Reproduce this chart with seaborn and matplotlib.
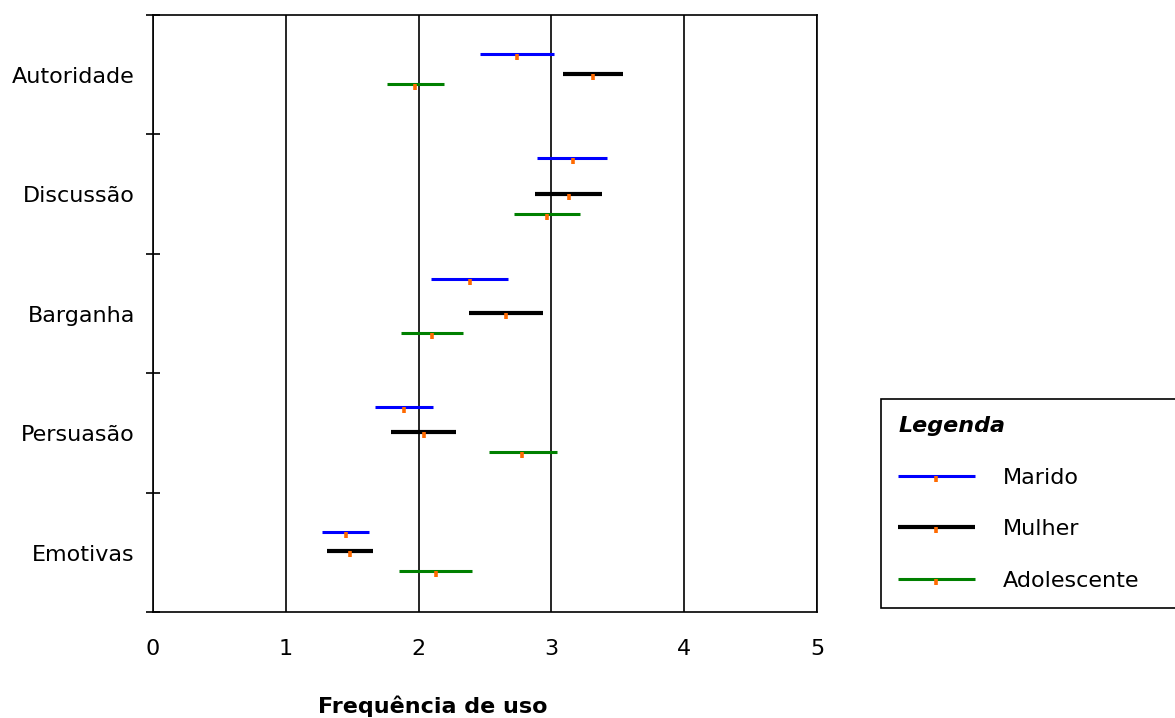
import numpy as np
import pandas as pd
import matplotlib
matplotlib.use("Agg")
import matplotlib.pyplot as plt
import seaborn as sns
from matplotlib.path import Path
from matplotlib.lines import Line2D

# ---------------- data ----------------
categories = ["Autoridade", "Discussão", "Barganha", "Persuasão", "Emotivas"]
series = ["Marido", "Mulher", "Adolescente"]

marido_low = [2.46, 2.89, 2.09, 1.67, 1.27]
marido_high = [3.02, 3.42, 2.675, 2.11, 1.63]
marido_mean = [2.74, 3.16, 2.39, 1.89, 1.455]

mulher_low = [3.085, 2.88, 2.38, 1.79, 1.31]
mulher_high = [3.54, 3.38, 2.94, 2.28, 1.66]
mulher_mean = [3.31, 3.135, 2.66, 2.04, 1.48]

adol_low = [1.76, 2.715, 1.865, 2.53, 1.85]
adol_high = [2.19, 3.215, 2.335, 3.04, 2.40]
adol_mean = [1.97, 2.97, 2.10, 2.78, 2.13]

x_ticks = [0, 1, 2, 3, 4, 5]
x_label = "Frequência de uso"
legend_title = "Legenda"

# ---------------- layout / style ----------------
row_offset = {
    "Marido": [0.324, 0.199, 0.212, 0.283, 0.324],
    "Mulher": [0.491, 0.498, 0.491, 0.487, 0.491],
    "Adolescente": [0.580, 0.668, 0.664, 0.660, 0.655],
}
colors = {"Marido": "#0000ff", "Mulher": "#000000", "Adolescente": "#008000"}
widths = {"Marido": 2.2, "Mulher": 3.0, "Adolescente": 2.2}
orange = "#ff6a00"
tick_marker = Path([(0, 0), (0, -1)])

lows = {"Marido": marido_low, "Mulher": mulher_low, "Adolescente": adol_low}
highs = {"Marido": marido_high, "Mulher": mulher_high, "Adolescente": adol_high}
means = {"Marido": marido_mean, "Mulher": mulher_mean, "Adolescente": adol_mean}

seg_rows, mean_rows = [], []
for s in series:
    for i, cat in enumerate(categories):
        y = i + row_offset[s][i]
        unit = f"{s}-{cat}"
        seg_rows.append({"series": s, "unit": unit, "x": lows[s][i], "y": y})
        seg_rows.append({"series": s, "unit": unit, "x": highs[s][i], "y": y})
        mean_rows.append({"series": s, "x": means[s][i], "y": y})
seg = pd.DataFrame(seg_rows)
mdf = pd.DataFrame(mean_rows)

sns.set_style("white")
plt.rcParams["font.family"] = ["DejaVu Sans"]
plt.rcParams["text.color"] = "black"
plt.rcParams["axes.labelcolor"] = "black"
plt.rcParams["xtick.color"] = "black"
plt.rcParams["ytick.color"] = "black"

fig = plt.figure(figsize=(11.75, 7.18), dpi=100)
ax = fig.add_axes([153 / 1175, 1 - 612.3 / 718, 664 / 1175, 597.3 / 718])

for s in series:
    sns.lineplot(data=seg[seg["series"] == s], x="x", y="y", units="unit",
                 estimator=None, sort=False, color=colors[s], lw=widths[s],
                 solid_capstyle="butt", ax=ax, legend=False, zorder=3)

sns.scatterplot(data=mdf, x="x", y="y", marker=tick_marker, s=74,
                color=orange, edgecolor=orange, linewidth=2.6,
                ax=ax, legend=False, zorder=5)

ax.set_xlim(0, 5)
ax.set_ylim(5, 0)
ax.set_xticks(x_ticks)
ax.set_xticklabels([str(t) for t in x_ticks])
ax.tick_params(axis="x", length=0, pad=19.5, labelsize=16, colors="black")
ax.xaxis.grid(True, color="black", lw=1.2)
ax.set_axisbelow(True)

ax.set_yticks([i + 0.5 for i in range(len(categories))])
ax.set_yticklabels(categories)
ax.set_yticks(range(len(categories) + 1), minor=True)
ax.tick_params(axis="y", which="major", length=0, pad=13, labelsize=16, colors="black")
ax.tick_params(axis="y", which="minor", length=10, width=1.2, direction="inout",
               color="black", left=True)
ax.set_ylabel("")

for sp in ax.spines.values():
    sp.set_visible(True)
    sp.set_color("black")
    sp.set_linewidth(1.2)

ax.set_xlabel(x_label, fontsize=16, fontweight="bold", color="black")
ax.xaxis.label.set_va("center")
ax.xaxis.set_label_coords((433 - 153) / 664, -(706 - 612.3) / 597.3)

handles = [Line2D([], [], color=colors[s], lw=widths[s], marker=tick_marker,
                  markersize=8.6, mfc=orange, mec=orange, mew=2.6,
                  solid_capstyle="butt") for s in series]
leg = fig.legend(handles, series, loc="upper left",
                 bbox_to_anchor=(881 / 1175, 1 - 399 / 718, (1200 - 881) / 1175, 0),
                 mode="expand", title=legend_title, alignment="left",
                 title_fontproperties={"weight": "bold", "style": "italic", "size": 16},
                 fontsize=16, frameon=True, fancybox=False, framealpha=1,
                 edgecolor="black", borderpad=0.77, handlelength=3.45,
                 handletextpad=1.25, labelspacing=1.42, borderaxespad=0,
                 numpoints=1, labelcolor="black")
leg.get_title().set_color("black")
leg.get_frame().set_linewidth(1.2)

fig.savefig("out.png", dpi=100, facecolor="white")
